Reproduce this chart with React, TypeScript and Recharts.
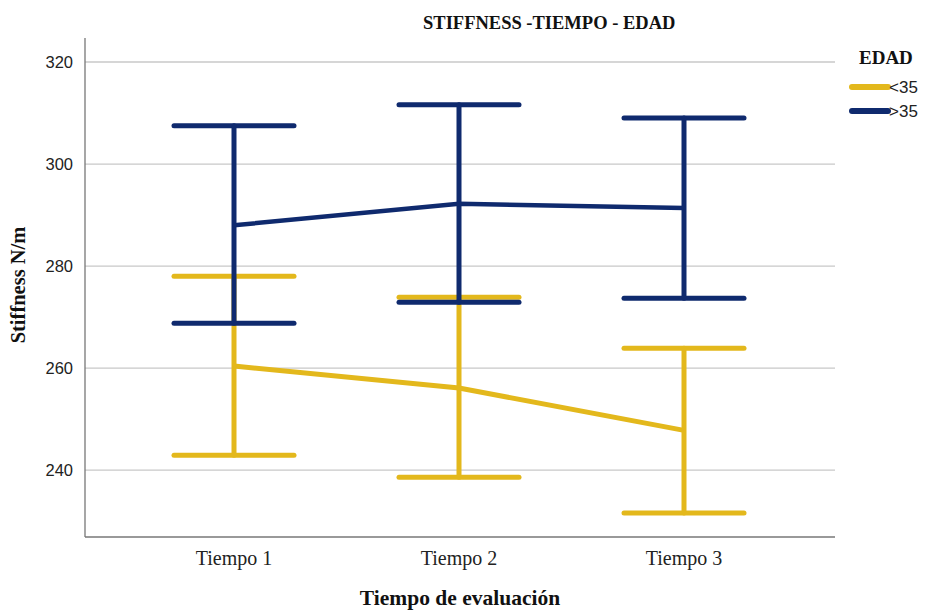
import React from "react";
import { LineChart, Line, XAxis, YAxis, ReferenceLine, ErrorBar } from "recharts";

const tiempos = ["Tiempo 1", "Tiempo 2", "Tiempo 3"];
const yTicks = [240, 260, 280, 300, 320];

// edad < 35
const menos35Media = [260.4, 256.1, 247.8];
const menos35Bajo = [242.9, 238.6, 231.6];
const menos35Alto = [278.0, 273.9, 263.9];

// edad > 35
const mas35Media = [288.0, 292.2, 291.4];
const mas35Bajo = [268.8, 272.9, 273.7];
const mas35Alto = [307.5, 311.6, 309.0];

const grupos = ["<35", ">35"];

const AMARILLO = "#e3b81c";
const AZUL = "#0f2a6e";

const data = tiempos.map((t, i) => ({
  tiempo: t,
  menos35: menos35Media[i],
  menos35Err: [menos35Media[i] - menos35Bajo[i], menos35Alto[i] - menos35Media[i]],
  mas35: mas35Media[i],
  mas35Err: [mas35Media[i] - mas35Bajo[i], mas35Alto[i] - mas35Media[i]],
}));

const serif = "'Liberation Serif', 'Times New Roman', serif";
const sans = "'Liberation Sans', Arial, sans-serif";

// titulo + leyenda por encima del grafico
const Superpuesto = () => (
  <svg width={925} height={611} style={{ position: "absolute", left: 0, top: 0, pointerEvents: "none" }}>
    <text x={423} y={29} fontFamily={serif} fontWeight="bold" fontSize={18.5} fill="#111">
      STIFFNESS -TIEMPO - EDAD
    </text>
    <text x={859} y={64} fontFamily={serif} fontWeight="bold" fontSize={19} fill="#111">EDAD</text>
    <line x1={852} y1={87} x2={888} y2={87} stroke={AMARILLO} strokeWidth={6} strokeLinecap="round" />
    <text x={889} y={93} fontFamily={sans} fontSize={17} fill="#222">{grupos[0]}</text>
    <line x1={852} y1={111} x2={888} y2={111} stroke={AZUL} strokeWidth={6} strokeLinecap="round" />
    <text x={889} y={117} fontFamily={sans} fontSize={17} fill="#222">{grupos[1]}</text>
  </svg>
);

export default function App() {
  return (
    <div style={{ position: "absolute", left: 0, top: 0, width: 925, height: 611, background: "#fff" }}>
      <LineChart width={925} height={611} data={data} margin={{ top: 38, right: 90, bottom: 0, left: 0 }}>
        {yTicks.map((t) => (
          <ReferenceLine key={t} y={t} stroke="#c8c8c8" strokeWidth={1.3} />
        ))}
        <XAxis
          dataKey="tiempo"
          scale="point"
          padding={{ left: 149, right: 151 }}
          tickLine={false}
          axisLine={{ stroke: "#777", strokeWidth: 1.3 }}
          tick={{ fontFamily: serif, fontSize: 20, fill: "#222" }}
          tickMargin={8}
          height={74}
          label={{
            content: () => (
              <text x={460} y={605} textAnchor="middle" fontFamily={serif} fontWeight="bold" fontSize={21.5} fill="#111">
                Tiempo de evaluación
              </text>
            ),
          }}
        />
        <YAxis
          width={85}
          domain={[226.9, 324.7]}
          ticks={yTicks}
          allowDataOverflow
          tickLine={false}
          axisLine={{ stroke: "#777", strokeWidth: 1.3 }}
          tick={{ fontFamily: sans, fontSize: 16.5, fill: "#222" }}
          tickMargin={6}
          label={{
            content: () => (
              <text
                x={25}
                y={285}
                transform="rotate(-90 25 285)"
                textAnchor="middle"
                fontFamily={serif}
                fontWeight="bold"
                fontSize={20.5}
                fill="#111"
              >
                Stiffness N/m
              </text>
            ),
          }}
        />
        <Line
          type="linear"
          dataKey="menos35"
          name={grupos[0]}
          stroke={AMARILLO}
          strokeWidth={5}
          dot={false}
          isAnimationActive={false}
        >
          <ErrorBar
            dataKey="menos35Err"
            direction="y"
            width={60}
            stroke={AMARILLO}
            strokeWidth={5}
            strokeLinecap="round"
            isAnimationActive={false}
          />
        </Line>
        <Line
          type="linear"
          dataKey="mas35"
          name={grupos[1]}
          stroke={AZUL}
          strokeWidth={4.5}
          dot={false}
          isAnimationActive={false}
        >
          <ErrorBar
            dataKey="mas35Err"
            direction="y"
            width={60}
            stroke={AZUL}
            strokeWidth={5}
            strokeLinecap="round"
            isAnimationActive={false}
          />
        </Line>
      </LineChart>
      <Superpuesto />
    </div>
  );
}
